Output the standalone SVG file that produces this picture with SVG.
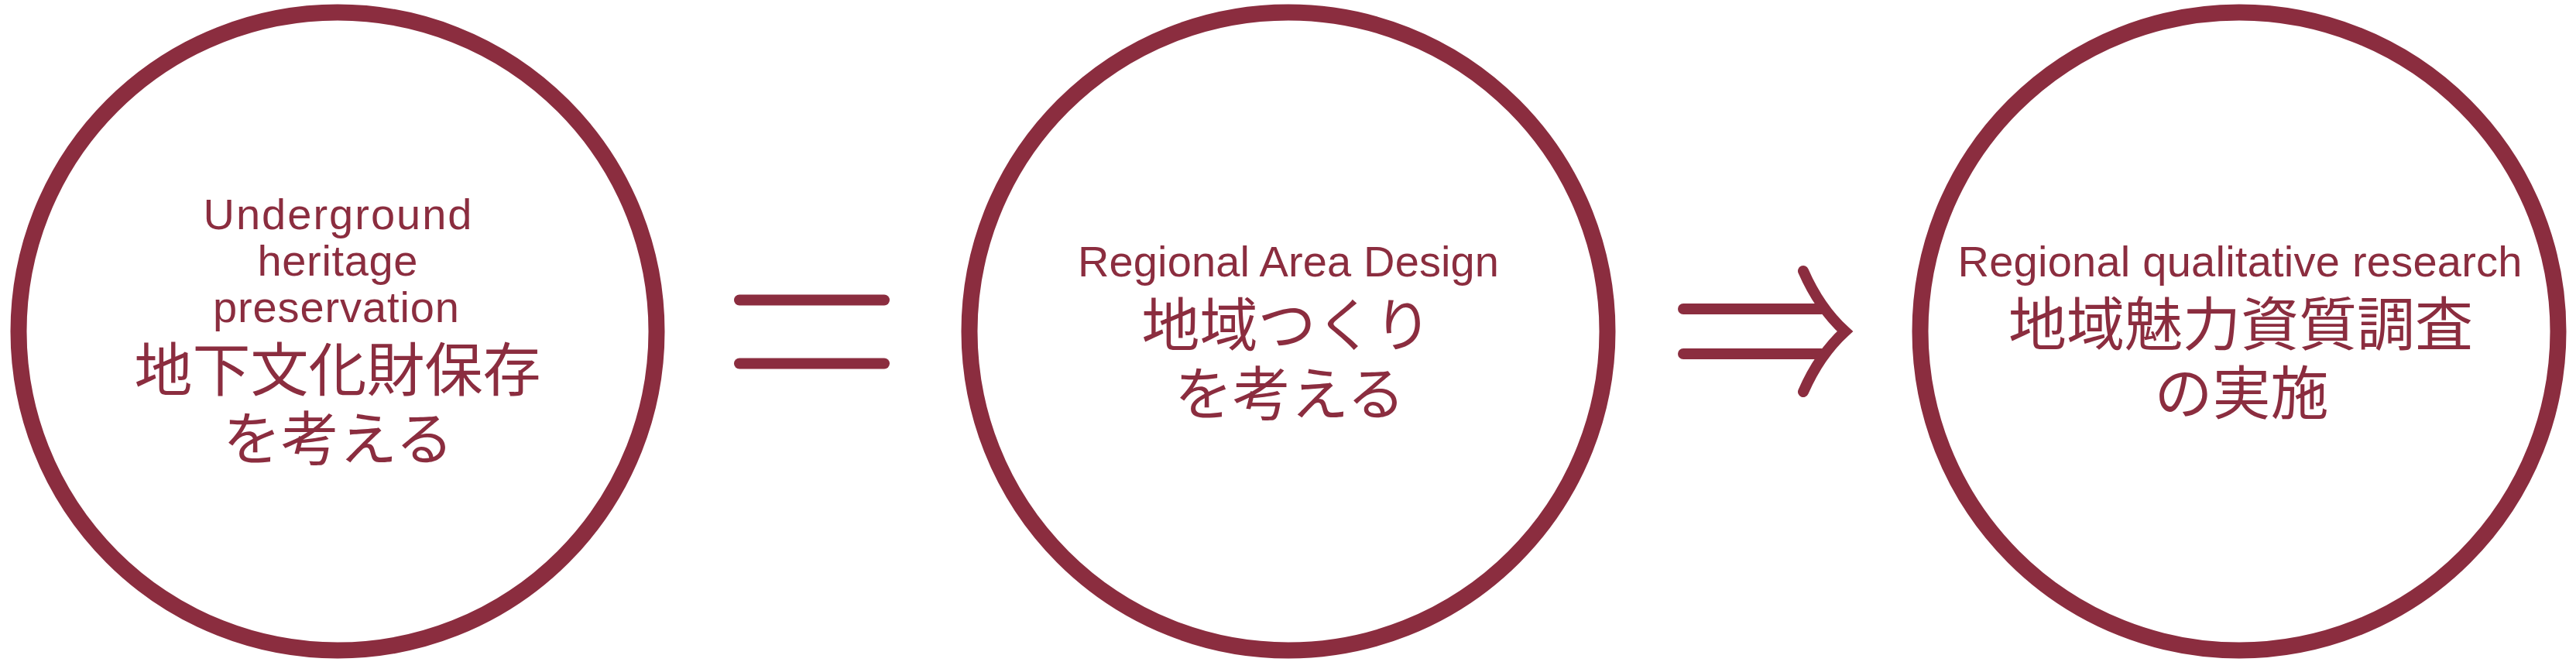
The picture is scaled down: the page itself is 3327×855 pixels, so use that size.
<svg xmlns="http://www.w3.org/2000/svg" width="3327" height="855" viewBox="0 0 3327 855">
<style>
.ring{fill:none;stroke:#8B2D3F;stroke-width:21}
.bar{stroke:#8B2D3F;stroke-width:14;stroke-linecap:round;fill:none}
.en{font-family:"Liberation Sans",Arial,sans-serif;font-size:56px;fill:#8B2D3F;text-anchor:middle}
.jp{font-family:"Noto Sans CJK JP","Noto Sans CJK SC",sans-serif;font-size:75px;fill:#8B2D3F;text-anchor:middle}
</style>
<rect width="3327" height="855" fill="#ffffff"/>
<g id="node1">
<circle class="ring" cx="436" cy="428" r="412"/>
<text class="en" x="436" y="296" textLength="347" lengthAdjust="spacing">Underground</text>
<text class="en" x="436" y="356" textLength="207" lengthAdjust="spacing">heritage</text>
<text class="en" x="434" y="416" textLength="318" lengthAdjust="spacing">preservation</text>
<text class="jp" x="436" y="505">地下文化財保存</text>
<text class="jp" x="437" y="594">を考える</text>
</g>
<g id="node2">
<circle class="ring" cx="1664" cy="428" r="412"/>
<text class="en" x="1664" y="357" textLength="544" lengthAdjust="spacing">Regional Area Design</text>
<text class="jp" x="1662" y="447">地域つくり</text>
<text class="jp" x="1666" y="536">を考える</text>
</g>
<g id="node3">
<circle class="ring" cx="2892" cy="428" r="412"/>
<text class="en" x="2893" y="357" textLength="729" lengthAdjust="spacing">Regional qualitative research</text>
<text class="jp" x="2894" y="446">地域魅力資質調査</text>
<text class="jp" x="2895" y="535">の実施</text>
</g>
<g id="connectors">
<line class="bar" x1="955" y1="387.5" x2="1142" y2="387.5"/>
<line class="bar" x1="955" y1="469.5" x2="1142" y2="469.5"/>
<line class="bar" x1="2174" y1="399" x2="2352" y2="399"/>
<line class="bar" x1="2174" y1="457" x2="2352" y2="457"/>
<path class="bar" stroke-linejoin="miter" d="M2329,350 Q2350,398 2383,428 Q2350,458 2329,506"/>
</g>
</svg>
